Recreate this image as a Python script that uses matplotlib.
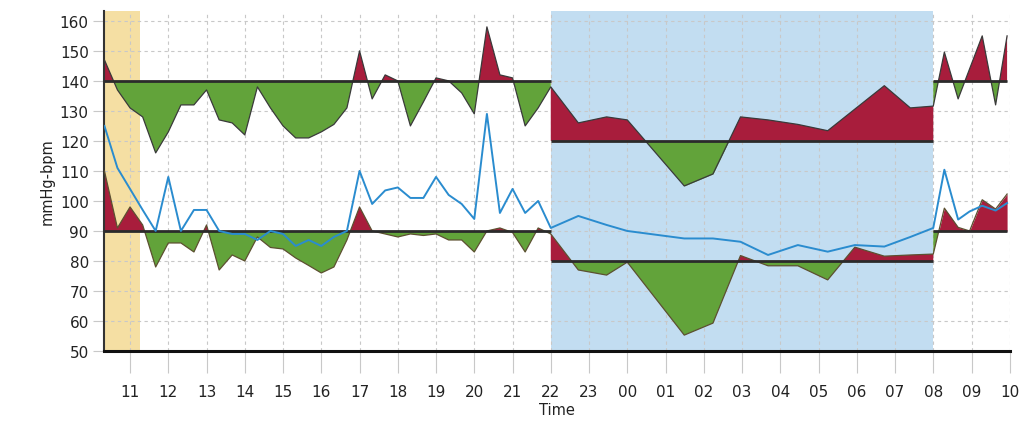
import numpy as np
import matplotlib.pyplot as plt

# time of each reading, hours since midnight (24+ = next morning)
t = [10.33, 10.67, 11.0, 11.33, 11.67, 12.0, 12.33, 12.67, 13.0, 13.33, 13.67, 14.0,
     14.33, 14.67, 15.0, 15.33, 15.67, 16.0, 16.33, 16.67, 17.0, 17.33, 17.67, 18.0,
     18.33, 18.67, 19.0, 19.33, 19.67, 20.0, 20.33, 20.67, 21.0, 21.33, 21.67, 22.0,
     22.72, 23.46, 24.0, 25.49, 26.24, 26.96, 27.68, 28.46, 29.24, 29.95, 30.72, 31.4, 32.0,
     32.29, 32.65, 32.95, 33.28, 33.63, 33.93]

systolic = [147, 137, 131, 128, 116, 123, 132, 132, 137, 127, 126, 122,
            138, 131, 125, 121, 121, 123, 125.5, 131, 150, 134, 142, 140,
            125, 133, 141, 140, 136, 129, 158, 142, 141, 125, 131, 138,
            126, 128, 127, 105, 109, 128, 127, 125.5, 123.4, 130.6, 138.4, 131, 131.6,
            149.6, 134, 144, 155, 132, 155]

diastolic = [110, 91, 98, 92, 78, 86, 86, 83, 92, 77, 82, 80,
             88, 84.5, 84, 81, 78.5, 76, 78, 87, 98, 90, 89, 88,
             89, 88.5, 89, 87, 87, 83, 90, 91, 89.5, 83, 91, 89,
             77, 75.3, 79.6, 55.3, 59.3, 81.8, 78.4, 78.4, 73.7, 84.6, 81.6, 82, 82.3,
             97.6, 91.2, 90, 100.4, 97.3, 102.3]

heart_rate = [125, 111, 104, 97, 90, 108, 90, 97, 97, 90, 89, 89,
              87, 90, 89, 85, 87, 85, 88, 90, 110, 99, 103.5, 104.5,
              101, 101, 108, 102, 99, 94, 129, 96, 104, 96, 100, 91,
              95, 92, 90, 87.5, 87.5, 86.4, 82, 85.3, 83.1, 85.3, 84.8, 88, 91,
              110.4, 93.8, 96.5, 98.4, 96.8, 99.3]

# day / night limits
sys_day, sys_night = 140, 120
dia_day, dia_night = 90, 80
night_start, night_end = 22, 32
tick_hours = list(range(11, 35))
tick_labels = ['%02d' % (h % 24) for h in tick_hours]

RED = '#a81d3c'
GREEN = '#62a33a'

t = np.array(t)
systolic = np.array(systolic, dtype=float)
diastolic = np.array(diastolic, dtype=float)
heart_rate = np.array(heart_rate, dtype=float)

fig = plt.figure(figsize=(10.24, 4.27), dpi=100)
ax = fig.add_axes([0.1016, 0.1756, 0.8845, 0.7964])
ax.set_xlim(10.32, 33.95)
ax.set_ylim(50, 163.3)

# shaded periods
ax.axvspan(10.32, 11.26, color='#f5dfa3', zorder=0, lw=0)
ax.axvspan(night_start, night_end, color='#c2ddf1', zorder=0, lw=0)


def fill_limit(mask, vals, limit):
    tt, vv = t[mask], vals[mask]
    ax.fill_between(tt, vv, limit, where=vv >= limit, interpolate=True,
                    color=RED, lw=0, zorder=2)
    ax.fill_between(tt, vv, limit, where=vv <= limit, interpolate=True,
                    color=GREEN, lw=0, zorder=2)
    ax.plot([tt[0], tt[-1]], [limit, limit], color='#2b2b2b', lw=2, zorder=4,
            solid_capstyle='butt')


segs = [(t <= night_start, sys_day, dia_day),
        ((t >= night_start) & (t <= night_end), sys_night, dia_night),
        (t >= night_end, sys_day, dia_day)]
for mask, ls, ld in segs:
    fill_limit(mask, systolic, ls)
    fill_limit(mask, diastolic, ld)

ax.plot(t, systolic, color='#3a3a3a', lw=0.9, zorder=3)
ax.plot(t, diastolic, color='#5c5030', lw=0.9, zorder=3)
ax.plot(t, heart_rate, color='#2a8ccf', lw=1.4, zorder=5)

# axes styling
ax.set_xticks(tick_hours)
ax.set_xticklabels(tick_labels)
ax.set_yticks(range(50, 161, 10))
ax.grid(True, color='#c8c8c8', linestyle=(0, (3, 3)), lw=0.8, zorder=1)
ax.set_axisbelow(True)
for s in ['top', 'right']:
    ax.spines[s].set_visible(False)
ax.spines['left'].set_color('#333333')
ax.spines['left'].set_linewidth(1.5)
ax.spines['bottom'].set_color('#111111')
ax.spines['bottom'].set_linewidth(2.2)
ax.tick_params(axis='x', length=16, color='#c8c8c8', width=0.8, pad=8, labelsize=11,
               labelcolor='#222222')
ax.tick_params(axis='y', length=8, color='#c8c8c8', width=0.8, pad=3, labelsize=11,
               labelcolor='#222222')
ax.set_xlabel('Time', fontsize=10.5, color='#222222', labelpad=2)
ax.set_ylabel('mmHg-bpm', fontsize=10.5, color='#222222', labelpad=4)

fig.savefig('out.png', dpi=100)
